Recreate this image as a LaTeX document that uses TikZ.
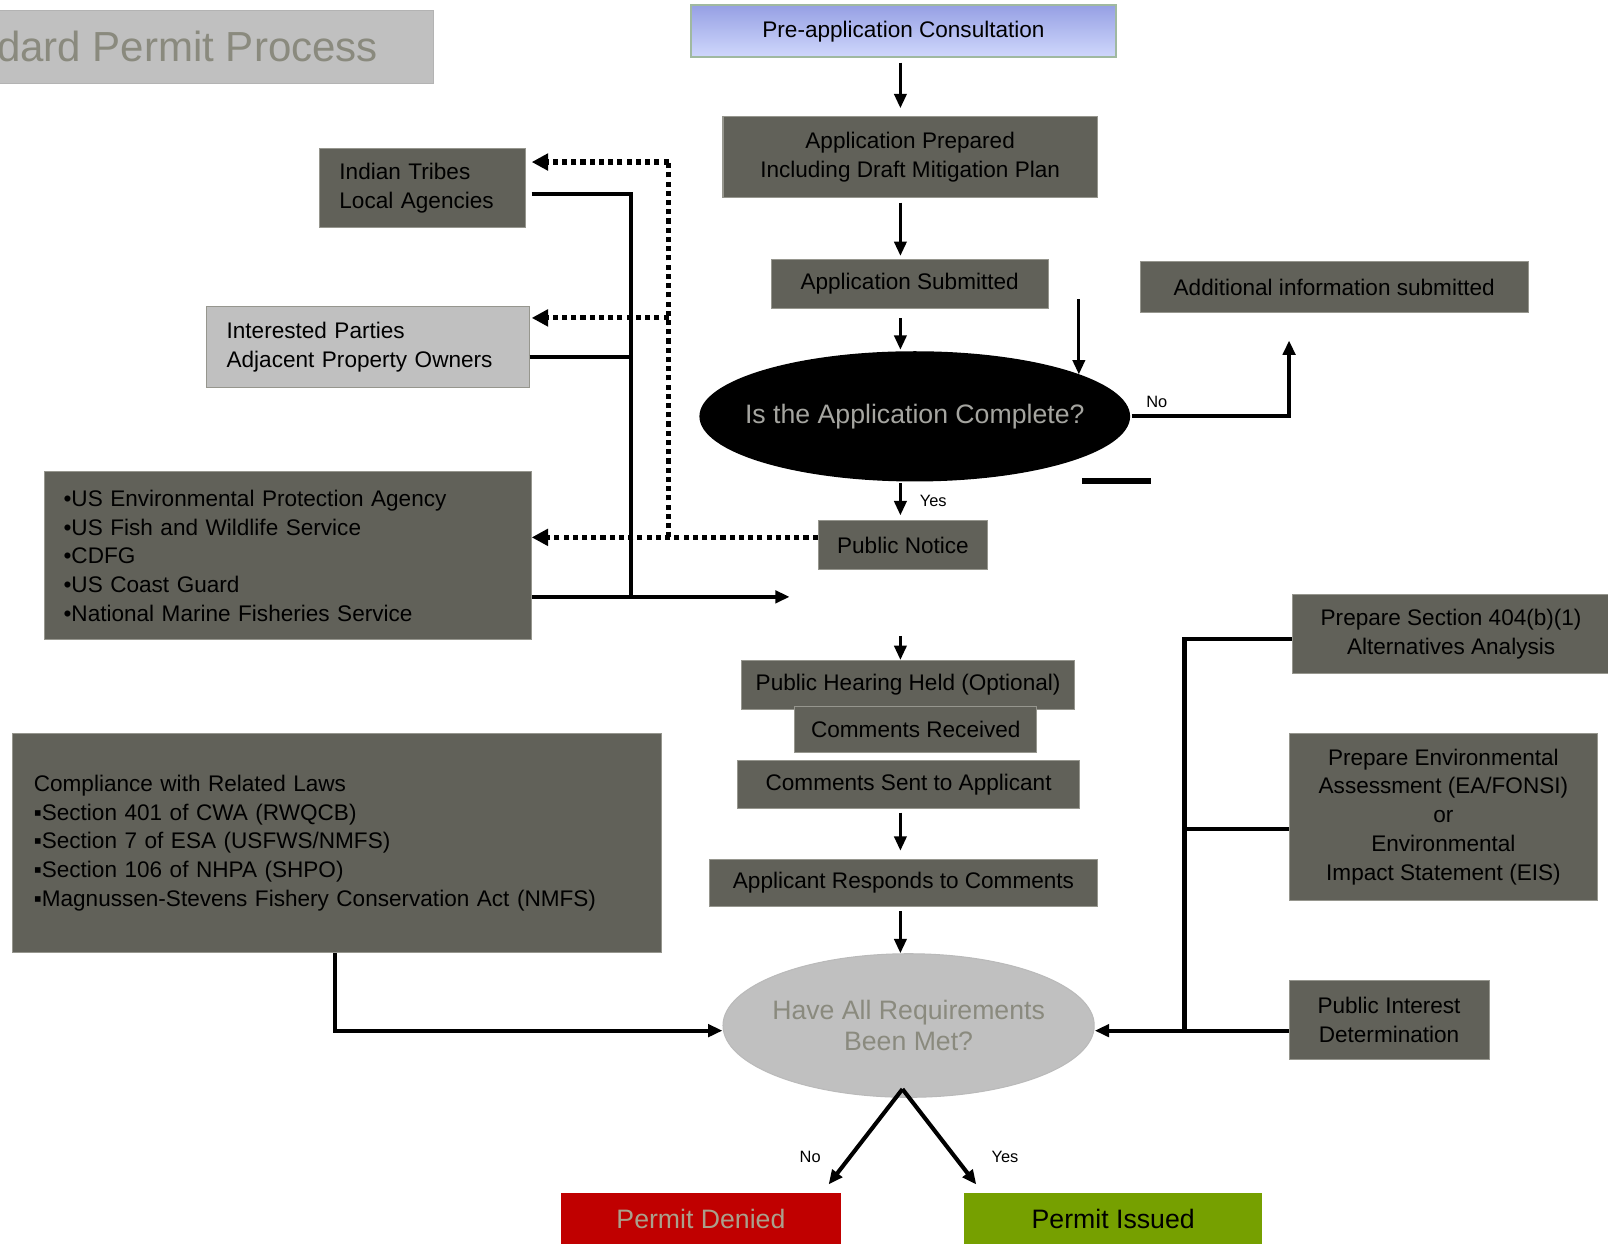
\documentclass[tikz,border=0pt]{standalone}
\usepackage{fontspec}
\setmainfont{Liberation Sans}
\usepackage{tikz}
\usetikzlibrary{arrows.meta,shapes.geometric}
\definecolor{boxgray}{RGB}{97, 97, 89}
\definecolor{palegray}{RGB}{192, 192, 192}
\definecolor{edgegray}{RGB}{150, 150, 142}
\definecolor{fadetext}{RGB}{138, 138, 126}
\definecolor{fadelight}{RGB}{165, 165, 160}
\definecolor{deniedred}{RGB}{192, 0, 0}
\definecolor{deniedtext}{RGB}{170, 160, 140}
\definecolor{issuedgreen}{RGB}{118, 160, 0}
\definecolor{lavtop}{RGB}{150, 160, 228}
\definecolor{lavmid}{RGB}{208, 216, 252}
\definecolor{lavbot}{RGB}{160, 185, 160}
\def\boxfont{\fontsize{22}{28}\selectfont}
\def\bigfont{\fontsize{26}{31}\selectfont}
\def\titlefont{\fontsize{41}{48}\selectfont}
\def\tagfont{\fontsize{16}{19}\selectfont}

\begin{document}
\begin{tikzpicture}[x=1pt, y=-1pt, line width=3pt,
    box/.style={draw=edgegray, line width=1pt, fill=boxgray, inner sep=0pt, align=center, font=\boxfont},
    listbox/.style={box, align=left},
    arr/.style={-{Triangle[length=14pt, width=12pt]}},
    wire/.style={line width=4pt},
    dots/.style={line width=5pt, dash pattern=on 5pt off 4pt},
    dotarr/.style={dots, -{Triangle[length=16pt, width=16pt]}},
    tag/.style={font=\tagfont, inner sep=0pt}]

    \path[use as bounding box, fill=white] (0,0) rectangle (1568,1213);

    % title
    \node[box, fill=palegray, draw=palegray!80!gray, minimum width=433, minimum height=71] (titlebar) at (206.5,45.5) {};
    \node[font=\titlefont, text=fadetext, anchor=east, inner sep=0pt] (titletext) at (370,45.5) {dard Permit Process};

    % main column
    \node[box, draw=lavbot, line width=2pt, top color=lavtop, middle color=lavmid, bottom color=lavmid, minimum width=414, minimum height=51] (preapp) at (881,30.5) {Pre-application Consultation};
    \node[box, minimum width=365, minimum height=79] (appprep) at (887.5,153.5) {Application Prepared\\Including Draft Mitigation Plan};
    \node[box, minimum width=270, minimum height=48] (appsub) at (887,277) {Application Submitted};
    \node[box, minimum width=378, minimum height=50] (addinfo) at (1301,280) {Additional information submitted};
    \node[ellipse, fill=black, inner sep=0pt, minimum width=420, minimum height=127,
        label={[font=\bigfont, text=fadelight]center:Is the Application Complete?}] (complete) at (892,406) {};
    \node[box, minimum width=165, minimum height=47] (pubnotice) at (880.5,531.5) {Public Notice};
    \node[box, minimum width=325, minimum height=48] (hearing) at (885.5,668) {Public Hearing Held (Optional)};
    \node[box, minimum width=236, minimum height=45] (received) at (893,711.5) {Comments Received};
    \node[box, minimum width=334, minimum height=46] (sent) at (886,765) {Comments Sent to Applicant};
    \node[box, minimum width=378, minimum height=46] (responds) at (881,861) {Applicant Responds to Comments};
    \node[ellipse, fill=palegray, draw=palegray!90!gray, line width=1pt, inner sep=0pt, minimum width=362, minimum height=140,
        label={[font=\bigfont, text=fadetext, align=center]center:Have All Requirements\\Been Met?}] (reqmet) at (886,1000) {};
    \node[box, draw=none, fill=deniedred, text=deniedtext, font=\bigfont, minimum width=273, minimum height=52] (denied) at (683.5,1189) {Permit Denied};
    \node[box, draw=none, fill=issuedgreen, font=\bigfont, minimum width=291, minimum height=52] (issued) at (1085.5,1189) {Permit Issued};

    % left side
    \node[listbox, inner xsep=19, text width=162, minimum height=77] (tribes) at (412,183.5) {Indian Tribes\\Local Agencies};
    \node[listbox, fill=palegray, inner xsep=20, text width=275, minimum height=79] (parties) at (358.5,338.5) {Interested Parties\\Adjacent Property Owners};
    \node[listbox, inner xsep=19, text width=437, minimum height=164] (agencies) at (280.5,542) {•US Environmental Protection Agency\\•US Fish and Wildlife Service\\•CDFG\\•US Coast Guard\\•National Marine Fisheries Service};
    \node[listbox, inner xsep=21, text width=591, minimum height=214] (laws) at (328.5,822) {Compliance with Related Laws\\▪Section 401 of CWA (RWQCB)\\▪Section 7 of ESA (USFWS/NMFS)\\▪Section 106 of NHPA (SHPO)\\▪Magnussen-Stevens Fishery Conservation Act (NMFS)};

    % right side
    \node[box, minimum width=310, minimum height=77] (alt) at (1415,618.5) {Prepare Section 404(b)(1)\\Alternatives Analysis};
    \node[box, minimum width=301, minimum height=163] (eis) at (1407.5,796.5) {Prepare Environmental\\Assessment (EA/FONSI)\\or\\Environmental\\Impact Statement (EIS)};
    \node[box, minimum width=195, minimum height=77] (pid) at (1354.5,994.5) {Public Interest\\Determination};

    % labels
    \node[tag] (yesA) at (910,488) {Yes};
    \node[tag] (noA) at (1128,392) {No};
    \node[tag] (noB) at (790,1128) {No};
    \node[tag] (yesB) at (980,1128) {Yes};

    \coordinate (spine) at (878,0);
    \coordinate (addtop) at (1052,292);
    \coordinate (noup) at (1257,332);
    \coordinate (hearin) at (878,620);
    \coordinate (dtop) at (652,158);
    \coordinate (dmid) at (652,310);
    \coordinate (dbot) at (652,524);
    \coordinate (btop) at (615,189);
    \coordinate (bmid) at (615,348);
    \coordinate (bbot) at (615,582);
    \coordinate (bend) at (770,582);
    \coordinate (rtop) at (1155,623);
    \coordinate (rmid) at (1155,808);
    \coordinate (rbot) at (1155,1005);
    \coordinate (lawsx) at (327,0);
    \coordinate (fork) at (880,1062);
    \coordinate (noend) at (808,1155);
    \coordinate (yesend) at (952,1155);

    % main flow
    \draw[arr, shorten <=4pt, shorten >=8pt] (preapp.south -| spine) -- (appprep.north -| spine);
    \draw[arr, shorten <=4pt, shorten >=3pt] (appprep.south -| spine) -- (appsub.north -| spine);
    \draw[arr, shorten <=9pt] (appsub.south -| spine) -- (spine |- complete.north);
    \draw[arr] (addtop) -- (addtop |- complete.14);
    \draw[wire, arr] (complete.east) -| (noup);
    \draw[line width=5pt] (1055,469) -- (1122,469);
    \draw[arr, shorten >=5pt] (spine |- complete.south) -- (spine |- pubnotice.north);
    \draw[arr] (hearin) -- (spine |- hearing.north);
    \draw[arr, shorten <=4pt, shorten >=8pt] (sent.south -| spine) -- (responds.north -| spine);
    \draw[arr, shorten <=4pt] (responds.south -| spine) -- (spine |- reqmet.north);
    \draw[wire, arr] (fork) -- (noend);
    \draw[wire, arr] (fork) -- (yesend);

    % notices
    \draw[dots] (dbot) -- (dtop);
    \draw[dotarr, shorten >=6pt] (dtop) -- (dtop -| tribes.east);
    \draw[dotarr, shorten >=2pt] (dmid) -- (dmid -| parties.east);
    \draw[dotarr] (pubnotice.west |- dbot) -- (agencies.east |- dbot);

    % comments back
    \draw[wire, shorten <=6pt] (btop -| tribes.east) -- (btop) -- (bbot);
    \draw[wire] (bmid -| parties.east) -- (bmid);
    \draw[wire, arr] (bbot -| agencies.east) -- (bend);

    % requirements
    \draw[wire] (rtop -| alt.west) -- (rtop) -- (rbot);
    \draw[wire] (rmid -| eis.west) -- (rmid);
    \draw[wire, arr] (rbot -| pid.west) -- (rbot -| reqmet.east);
    \draw[wire, arr] (laws.south -| lawsx) |- (reqmet.west |- rbot);

\end{tikzpicture}
\end{document}
